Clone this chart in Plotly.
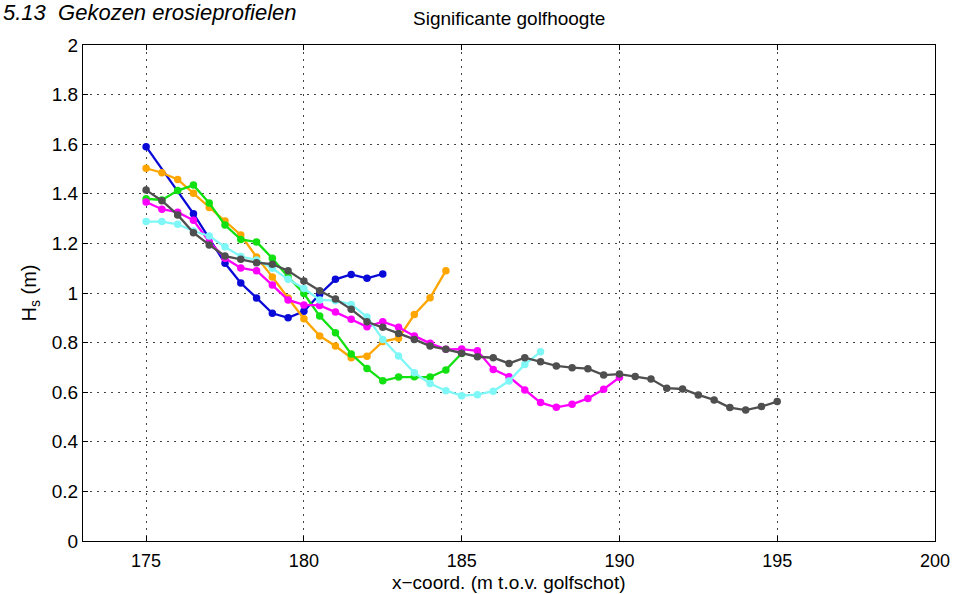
import plotly.graph_objects as go

# ---- data ----
x_blue = [175, 176.5, 177.5, 178, 178.5, 179, 179.5, 180, 180.5, 181, 181.5, 182, 182.5]
hs_blue = [1.59, 1.32, 1.12, 1.04, 0.98, 0.918, 0.90, 0.926, 0.995, 1.055, 1.075, 1.059, 1.077]

x_orange = [175, 175.5, 176, 176.5, 177, 177.5, 178, 178.5, 179, 179.5, 180, 180.5, 181,
            181.5, 182, 182.5, 183, 183.5, 184, 184.5]
hs_orange = [1.503, 1.485, 1.458, 1.402, 1.345, 1.290, 1.234, 1.145, 1.065, 0.98, 0.896, 0.827,
             0.786, 0.739, 0.745, 0.804, 0.818, 0.913, 0.981, 1.090]

x_green = [175, 175.5, 176, 176.5, 177, 177.5, 178, 178.5, 179, 179.5, 180, 180.5, 181,
           181.5, 182, 182.5, 183, 183.5, 184, 184.5, 185]
hs_green = [1.38, 1.375, 1.413, 1.435, 1.363, 1.274, 1.216, 1.206, 1.140, 1.065, 0.998, 0.907,
            0.840, 0.754, 0.696, 0.646, 0.661, 0.662, 0.661, 0.690, 0.756]

x_magenta = [175, 175.5, 176, 176.5, 177, 177.5, 178, 178.5, 179, 179.5, 180, 180.5, 181,
             181.5, 182, 182.5, 183, 183.5, 184, 184.5, 185, 185.5, 186, 186.5, 187, 187.5,
             188, 188.5, 189, 189.5, 190]
hs_magenta = [1.367, 1.338, 1.326, 1.293, 1.207, 1.140, 1.101, 1.090, 1.032, 0.972, 0.952, 0.950,
              0.923, 0.894, 0.864, 0.884, 0.862, 0.827, 0.797, 0.773, 0.774, 0.767, 0.692, 0.662,
              0.609, 0.558, 0.539, 0.551, 0.575, 0.612, 0.660]

x_cyan = [175, 175.5, 176, 176.5, 177, 177.5, 178, 178.5, 179, 179.5, 180, 180.5, 181,
          181.5, 182, 182.5, 183, 183.5, 184, 184.5, 185, 185.5, 186, 186.5, 187, 187.5]
hs_cyan = [1.288, 1.288, 1.277, 1.25, 1.230, 1.186, 1.147, 1.133, 1.10, 1.055, 1.018, 0.972,
           0.969, 0.954, 0.903, 0.813, 0.746, 0.678, 0.635, 0.606, 0.586, 0.590, 0.604, 0.645,
           0.712, 0.763]

x_gray = [175, 175.5, 176, 176.5, 177, 177.5, 178, 178.5, 179, 179.5, 180, 180.5, 181,
          181.5, 182, 182.5, 183, 183.5, 184, 184.5, 185, 185.5, 186, 186.5, 187, 187.5,
          188, 188.5, 189, 189.5, 190, 190.5, 191, 191.5, 192, 192.5, 193, 193.5, 194,
          194.5, 195]
hs_gray = [1.415, 1.372, 1.315, 1.243, 1.194, 1.149, 1.136, 1.122, 1.116, 1.090, 1.048, 1.009,
           0.976, 0.934, 0.884, 0.862, 0.837, 0.813, 0.786, 0.773, 0.757, 0.743, 0.739, 0.716,
           0.739, 0.723, 0.706, 0.699, 0.695, 0.669, 0.673, 0.663, 0.653, 0.616, 0.613, 0.589,
           0.569, 0.538, 0.528, 0.542, 0.562]

series = [
    (x_blue, hs_blue, "#0a0ad8"),
    (x_orange, hs_orange, "#ffa500"),
    (x_green, hs_green, "#11e011"),
    (x_magenta, hs_magenta, "#ff00ff"),
    (x_cyan, hs_cyan, "#7ff7f7"),
    (x_gray, hs_gray, "#4f4f4f"),
]

x_ticks = [175, 180, 185, 190, 195, 200]
y_ticks = [0, 0.2, 0.4, 0.6, 0.8, 1, 1.2, 1.4, 1.6, 1.8, 2]

FONT = "Liberation Sans, Arial, Helvetica, sans-serif"

fig = go.Figure()
for xs, ys, col in series:
    fig.add_trace(go.Scatter(
        x=xs, y=ys, mode="lines+markers",
        line=dict(color=col, width=2.3),
        marker=dict(color=col, size=7.5),
        showlegend=False,
    ))

axis_common = dict(
    showline=True, linecolor="black", linewidth=1, mirror="ticks",
    ticks="inside", ticklen=5, tickcolor="black", tickwidth=1,
    showgrid=True, gridcolor="#444444", gridwidth=1, griddash="2px,5px",
    zeroline=False, automargin=False,
    tickfont=dict(family=FONT, size=19, color="black"),
)

fig.update_xaxes(range=[173, 200], tickvals=x_ticks,
                 ticktext=[str(v) for v in x_ticks], ticklabelstandoff=3,
                 **axis_common)
fig.update_xaxes(tickfont=dict(family=FONT, size=18, color="black"))
fig.update_yaxes(range=[0, 2], tickvals=y_ticks,
                 ticktext=[("%g" % v) for v in y_ticks],
                 title=dict(text="H<sub>s</sub> (m)",
                            font=dict(family=FONT, size=20, color="black"), standoff=9),
                 **axis_common)

fig.add_annotation(text="x\u2212coord. (m t.o.v. golfschot)", xref="paper", yref="paper",
                   x=0.5, y=0, yanchor="middle", yshift=-41, showarrow=False,
                   font=dict(family=FONT, size=19, color="black"))
fig.add_annotation(text="Significante golfhoogte", xref="paper", yref="paper",
                   x=0.5, y=1, yanchor="middle", yshift=27, showarrow=False,
                   font=dict(family=FONT, size=19, color="black"))
fig.add_annotation(text="<i>5.13  Gekozen erosieprofielen</i>", xref="paper", yref="paper",
                   x=0, y=1, xanchor="left", yanchor="top", xshift=-82, yshift=47,
                   showarrow=False, align="left",
                   font=dict(family=FONT, size=22, color="black"))

fig.update_layout(
    width=956, height=594,
    margin=dict(l=83, r=21, t=45, b=53),
    paper_bgcolor="white", plot_bgcolor="white",
    font=dict(family=FONT, color="black"),
)

fig.write_html("out.html")
